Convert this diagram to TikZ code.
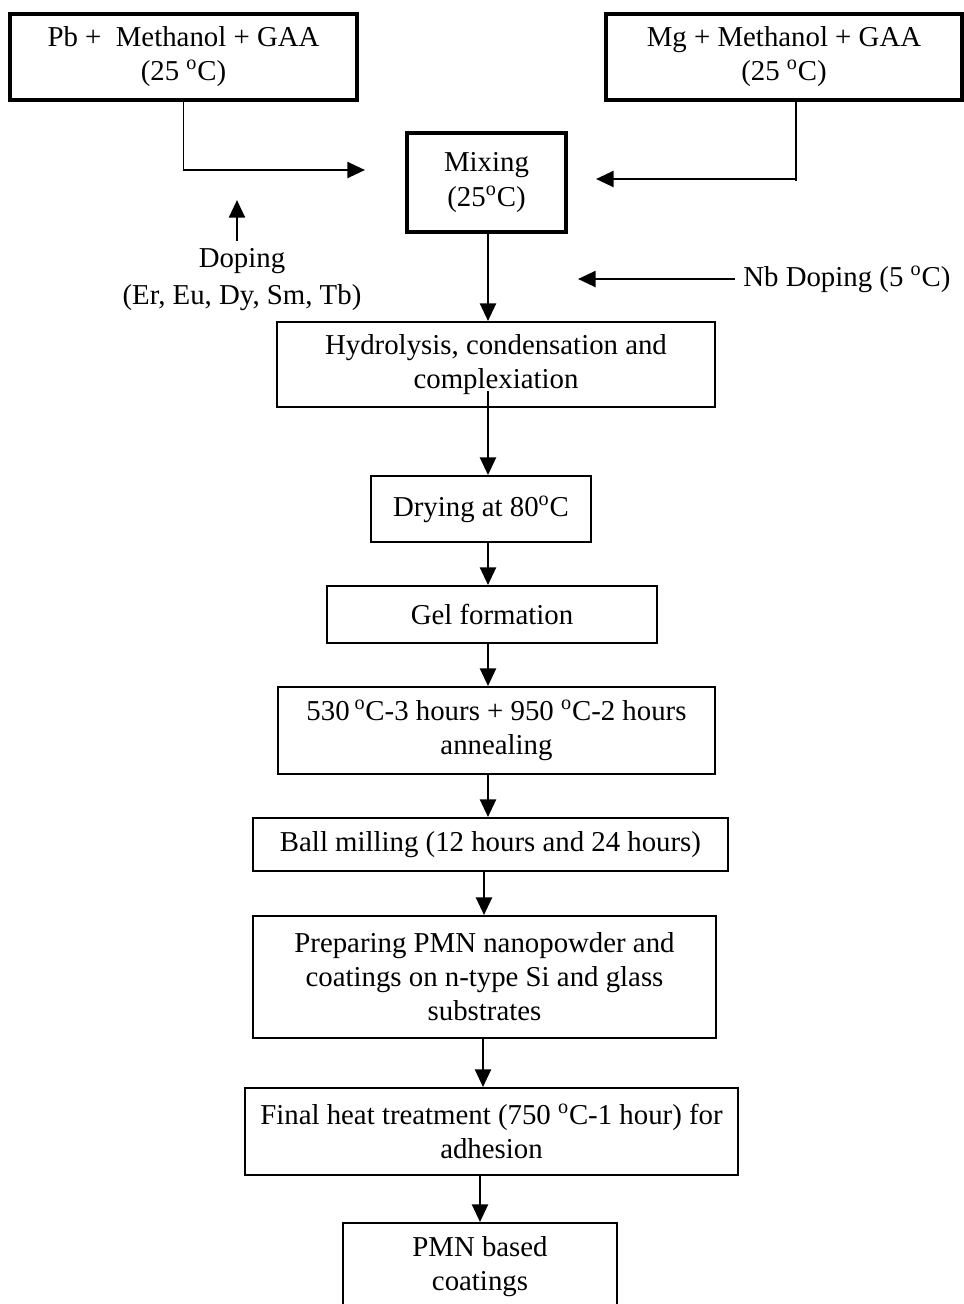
\documentclass[tikz,border=0pt]{standalone}
\usepackage{fontspec}
\setmainfont{Liberation Serif}
\usetikzlibrary{arrows.meta}
\newcommand{\degC}{\textsuperscript{o}C}

\begin{document}
\begin{tikzpicture}[
	font=\fontsize{16.4}{19.4}\selectfont,
	every node/.style={align=center, inner sep=0pt},
	source/.style={draw, line width=1.8pt},
	stage/.style={draw, line width=1.1pt},
	feed/.style={line width=0.8pt},
	arr/.style={-{Triangle[length=10pt,width=9pt]}, line width=1.5pt}
	]
	
	\useasboundingbox (0,0) rectangle (19.28,-26.08);
	
	% Draw nodes, starting solutions
	\node[source, minimum width=6.94cm, minimum height=1.72cm] (PbSol) at (3.67,-1.14) {Pb +~ Methanol + GAA\\(25 \degC)};
	\node[source, minimum width=7.12cm, minimum height=1.72cm] (MgSol) at (15.68,-1.14) {Mg + Methanol + GAA\\(25 \degC)};
	\node[source, minimum width=3.18cm, minimum height=1.98cm] (Mix) at (9.73,-3.65) {Mixing\\(25\degC)};
	
	% Draw nodes, dopants
	\node (Dop) at (4.84,-5.59) {Doping\\[2pt](Er, Eu, Dy, Sm, Tb)};
	\node[anchor=west] (Nb) at (14.86,-5.58) {Nb Doping (5 \degC)};
	
	% Draw nodes, process steps
	\node[stage, minimum width=8.76cm, minimum height=1.70cm] (Hyd) at (9.92,-7.29) {Hydrolysis, condensation and\\complexiation};
	\node[stage, minimum width=4.40cm, minimum height=1.32cm] (Dry) at (9.62,-10.18) {Drying at 80\degC};
	\node[stage, minimum width=6.60cm, minimum height=1.14cm] (Gel) at (9.84,-12.29) {Gel formation};
	\node[stage, minimum width=8.74cm, minimum height=1.74cm] (Ann) at (9.93,-14.61) {530\,\degC-3 hours + 950 \degC-2 hours\\annealing};
	\node[stage, minimum width=9.50cm, minimum height=1.06cm] (BM) at (9.81,-16.89) {Ball milling (12 hours and 24 hours)};
	\node[stage, minimum width=9.26cm, minimum height=2.44cm] (Prep) at (9.69,-19.54) {Preparing PMN nanopowder and\\coatings on n-type Si and glass\\substrates};
	\node[stage, minimum width=9.86cm, minimum height=1.74cm] (Heat) at (9.83,-22.63) {Final heat treatment (750 \degC-1 hour) for\\adhesion};
	\node[stage, minimum width=5.48cm, minimum height=1.76cm] (PMN) at (9.60,-25.34) {PMN based\\coatings};
	
	% Free ends of the feed arrows
	\coordinate (PbIn) at (7.30,-3.40);
	\coordinate (MgTurn) at (15.92,-3.58);
	\coordinate (MgIn) at (11.92,-3.58);
	\coordinate (DopIn) at (4.74,-4.00);
	\coordinate (NbIn) at (11.56,-5.58);
	\coordinate (col) at (9.76,0);
	
	% Draw arcs, feeds into the mixing step
	\draw[feed] (PbSol.south) -- (PbSol.south |- PbIn);
	\draw[arr] ([xshift=-0.02cm]PbSol.south |- PbIn) -- (PbIn);
	\draw[feed] ([xshift=0.24cm]MgSol.south) -- ([yshift=-0.04cm]MgTurn);
	\draw[arr] (MgTurn) -- (MgIn);
	\draw[arr] ([yshift=4pt]Dop.north -| DopIn) -- (DopIn);
	\draw[arr] ([xshift=-0.16cm]Nb.west) -- (NbIn);
	
	% Draw arcs, main sequence
	\draw[arr] (Mix.south -| col) -- (Hyd.north -| col);
	\draw[arr] ([yshift=0.34cm]Hyd.south -| col) -- (Dry.north -| col);
	\draw[arr] (Dry.south -| col) -- (Gel.north -| col);
	\draw[arr] (Gel.south -| col) -- (Ann.north -| col);
	\draw[arr] (Ann.south -| col) -- (BM.north -| col);
	\draw[arr] ([xshift=-0.08cm]BM.south -| col) -- ([xshift=-0.08cm]Prep.north -| col);
	\draw[arr] ([xshift=-0.10cm]Prep.south -| col) -- ([xshift=-0.10cm]Heat.north -| col);
	\draw[arr] ([xshift=-0.16cm]Heat.south -| col) -- ([xshift=-0.16cm]PMN.north -| col);
	
\end{tikzpicture}
\end{document}
